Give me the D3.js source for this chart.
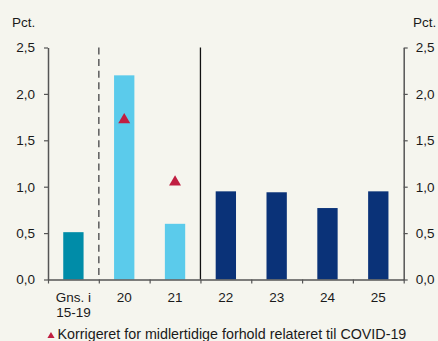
<!DOCTYPE html>
<html>
<head>
<meta charset="utf-8">
<script src="https://cdn.jsdelivr.net/npm/d3@7"></script>
<style>
  html, body { margin: 0; padding: 0; background: #f5f5ee; }
  svg { display: block; }
  text { font-family: "Liberation Sans", Arial, sans-serif; fill: #1a1a1a; }
</style>
</head>
<body>
<svg id="chart" width="438" height="341"></svg>
<script>
// Categories (years, first one is the 2015-19 average)
const categories = ["Gns. i\n15-19", "20", "21", "22", "23", "24", "25"];
// Growth in percent per category
const barValues = [0.51, 2.2, 0.6, 0.95, 0.94, 0.77, 0.95];
// Bar groups: historical average, crisis years, projection years
const barGroups = ["avg", "covid", "covid", "proj", "proj", "proj", "proj"];
// Values corrected for temporary COVID-19 effects
const correctedCats = ["20", "21"];
const correctedValues = [1.72, 1.05];
// Y axis ticks
const yTicks = [0, 0.5, 1.0, 1.5, 2.0, 2.5];
const yTickLabels = ["0,0", "0,5", "1,0", "1,5", "2,0", "2,5"];
const legendText = "Korrigeret for midlertidige forhold relateret til COVID-19";

const colors = { avg: "#008ca8", covid: "#5bcbeb", proj: "#0a3278" };
const markerColor = "#c01e41";
const fontSize = 13.5;

const svg = d3.select("#chart");
const plotLeft = 48, plotRight = 403.7, plotTop = 47.5, plotBottom = 279.5;

const x = d3.scaleBand().domain(categories).range([plotLeft, plotRight])
  .paddingInner(0.6).paddingOuter(0.3);
const yScale = d3.scaleLinear().domain([0, 2.5]).range([plotBottom, plotTop]);
// boundaries between categories, used for x ticks and separators
const xb = d3.scaleLinear().domain([0, categories.length]).range([plotLeft, plotRight]);

// bars
svg.append("g").selectAll("rect").data(barValues).join("rect")
  .attr("x", (d, i) => x(categories[i]))
  .attr("width", x.bandwidth())
  .attr("y", d => yScale(d))
  .attr("height", d => yScale(0) - yScale(d))
  .attr("fill", (d, i) => colors[barGroups[i]]);

// separators: dashed after the average, solid before the projection
svg.append("line")
  .attr("x1", xb(1)).attr("x2", xb(1))
  .attr("y1", yScale(2.5)).attr("y2", yScale(0))
  .attr("stroke", "#666").attr("stroke-width", 1.6)
  .attr("stroke-dasharray", "7,4.6");
svg.append("line")
  .attr("x1", xb(3)).attr("x2", xb(3))
  .attr("y1", yScale(2.5)).attr("y2", yScale(0))
  .attr("stroke", "#111").attr("stroke-width", 1.3);

// corrected-value markers
svg.append("g").selectAll("path").data(correctedValues).join("path")
  .attr("d", d3.symbol(d3.symbolTriangle, 62))
  .attr("transform", (d, i) =>
    `translate(${x(correctedCats[i]) + x.bandwidth() / 2},${yScale(d)})`)
  .attr("fill", markerColor);

const axisColor = "#555";
function styleAxis(g) {
  g.select(".domain").attr("stroke", axisColor).attr("stroke-width", 1.5);
  g.selectAll(".tick line").attr("stroke", axisColor).attr("stroke-width", 1.2);
  g.selectAll(".tick text").attr("font-size", fontSize)
    .attr("font-family", "'Liberation Sans', Arial, sans-serif").attr("fill", "#1a1a1a");
}

// left y axis
svg.append("g").attr("transform", `translate(${plotLeft},0)`)
  .call(d3.axisLeft(yScale).tickValues(yTicks).tickSize(4).tickSizeOuter(0)
    .tickPadding(9).tickFormat((d, i) => yTickLabels[i]))
  .call(styleAxis);

// right y axis
svg.append("g").attr("transform", `translate(${plotRight},0)`)
  .call(d3.axisRight(yScale).tickValues(yTicks).tickSize(4).tickSizeOuter(0)
    .tickPadding(8).tickFormat((d, i) => yTickLabels[i]))
  .call(styleAxis);

// x axis: ticks at category boundaries
svg.append("g").attr("transform", `translate(0,${plotBottom})`)
  .call(d3.axisBottom(xb).tickValues(d3.range(categories.length + 1))
    .tickSize(4).tickSizeOuter(0).tickFormat(""))
  .call(styleAxis);

// x category labels
const labels = svg.append("g").selectAll("text").data(categories).join("text")
  .attr("x", d => x(d) + x.bandwidth() / 2)
  .attr("y", 302)
  .attr("text-anchor", "middle")
  .attr("font-size", fontSize);
labels.each(function (d) {
  const lines = d.split("\n");
  d3.select(this).selectAll("tspan").data(lines).join("tspan")
    .attr("x", x(d) + x.bandwidth() / 2)
    .attr("dy", (l, j) => j === 0 ? 0 : 15)
    .text(l => l);
});

// unit labels
svg.append("text").attr("x", 12).attr("y", 27).attr("font-size", fontSize).text("Pct.");
svg.append("text").attr("x", 413).attr("y", 27).attr("font-size", fontSize).text("Pct.");

// legend
svg.append("path")
  .attr("d", d3.symbol(d3.symbolTriangle, 22))
  .attr("transform", "translate(51,336)")
  .attr("fill", markerColor);
svg.append("text").attr("x", 57.5).attr("y", 338.7).attr("font-size", 14.3).text(legendText);
</script>
</body>
</html>
